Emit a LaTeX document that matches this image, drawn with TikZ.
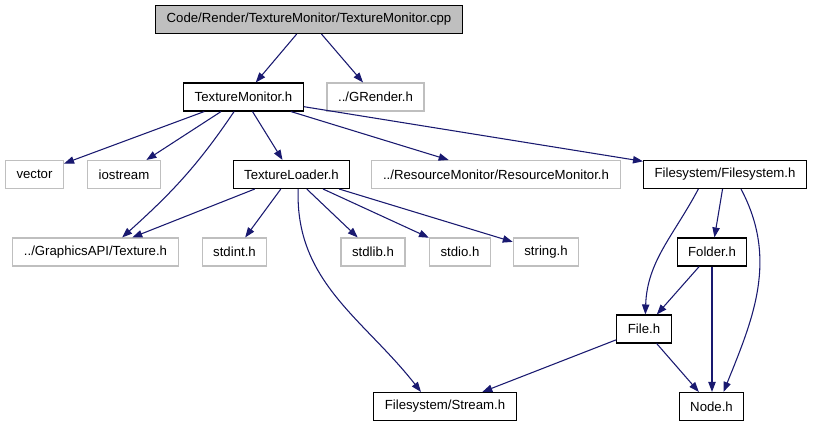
\documentclass[tikz,border=0pt]{standalone}
\usepackage{fontspec}
\setmainfont{Liberation Sans}
\usetikzlibrary{positioning,arrows.meta}
\definecolor{edgenavy}{RGB}{25,25,112}
\definecolor{extgray}{RGB}{191,191,191}
\tikzset{
  hdr/.style={draw=black,line width=0.8pt,fill=white,minimum height=21pt,
    inner xsep=8.3pt,inner ysep=0pt,font=\fontsize{9.9}{11}\selectfont},
  extfile/.style={hdr,draw=extgray},
  rootfile/.style={hdr,fill=extgray},
  dep/.style={edgenavy,line width=0.8pt,-{Triangle[length=7.5pt,width=5.5pt]}}
}
\begin{document}
\begin{tikzpicture}[x=0.75pt,y=-0.75pt]
        \useasboundingbox[fill=white] (0,0) rectangle (813,427);
        \node[rootfile] (cpp) at (309,19.5) {Code/Render/TextureMonitor/TextureMonitor.cpp};
        \node[hdr] (texmon) at (243.5,97) {TextureMonitor.h};
        \node[extfile] (grender) at (375.5,97) {../GRender.h};
        \node[extfile] (vector) at (34.5,174.5) {vector};
        \node[extfile] (iostream) at (124,174.5) {iostream};
        \node[hdr] (texload) at (291.5,174.5) {TextureLoader.h};
        \node[extfile] (resmon) at (496,174.5) {../ResourceMonitor/ResourceMonitor.h};
        \node[hdr] (fsys) at (725,174.5) {Filesystem/Filesystem.h};
        \node[extfile] (texture) at (95.5,252) {../GraphicsAPI/Texture.h};
        \node[extfile] (stdint) at (234.5,252) {stdint.h};
        \node[extfile] (stdlib) at (373,252) {stdlib.h};
        \node[extfile] (stdio) at (460,252) {stdio.h};
        \node[extfile] (string) at (546,252) {string.h};
        \node[hdr] (folder) at (712,252) {Folder.h};
        \node[hdr] (file) at (644,329) {File.h};
        \node[hdr] (stream) at (445,406.5) {Filesystem/Stream.h};
        \node[hdr] (nodeh) at (711.5,406.5) {Node.h};

        \draw[dep] (cpp) -- (texmon);
        \draw[dep] (cpp) -- (grender);
        \draw[dep] (texmon) -- (vector);
        \draw[dep] (texmon) -- (iostream);
        \draw[dep] (texmon.south west) ++(51,0) to[out=-124,in=42] ([xshift=20pt]texture.north);
        \draw[dep] (texmon) -- (texload);
        \draw[dep] (texmon) -- (resmon);
        \draw[dep] (texmon) -- (fsys);
        \draw[dep] (texload) -- (texture);
        \draw[dep] (texload) -- (stdint);
        \draw[dep] (texload) -- (stdlib);
        \draw[dep] (texload) -- (stdio);
        \draw[dep] (texload) -- (string);
        \draw[dep] ([xshift=5pt]texload.south) to[out=-92,in=128] ([xshift=-18pt]stream.north);
        \draw[dep] (fsys) -- (folder);
        \draw[dep] ([xshift=-20pt]fsys.south) to[out=-118,in=88] ([xshift=1pt]file.north);
        \draw[dep] ([xshift=12pt]fsys.south) to[out=-62,in=68] ([xshift=9pt]nodeh.north);
        \draw[dep] (folder) -- (file);
        \draw[dep] (folder) -- (folder |- nodeh.north);
        \draw[dep] (file) -- (stream);
        \draw[dep] (file) -- (nodeh);
      \end{tikzpicture}
\end{document}
